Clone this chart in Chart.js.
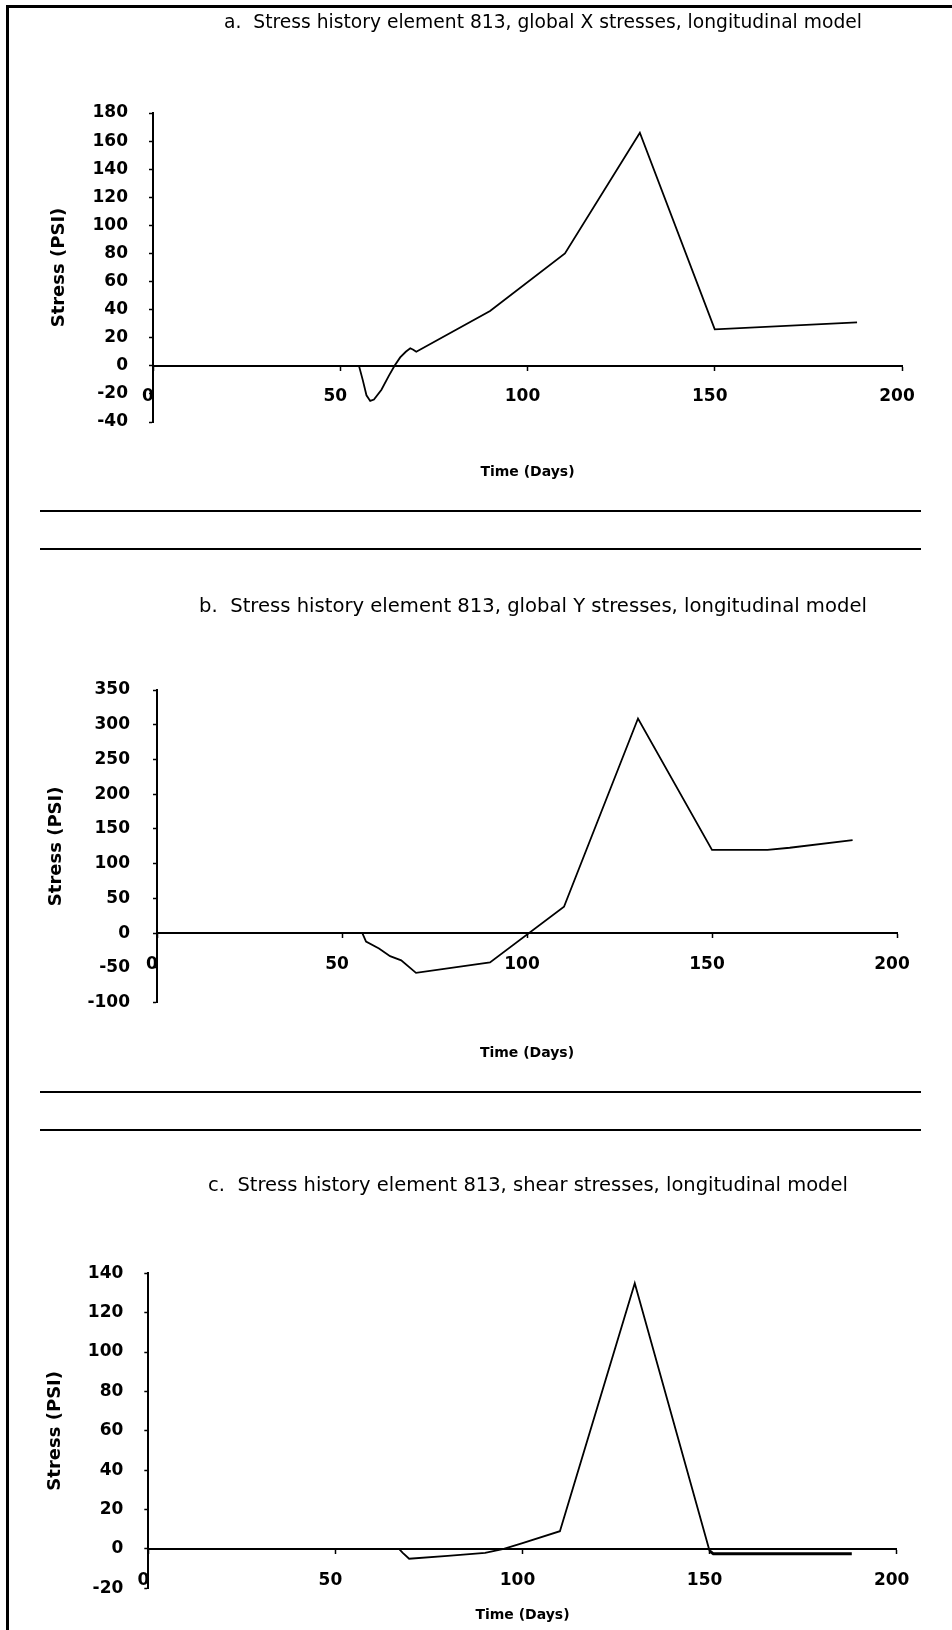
<!DOCTYPE html>
<html>
<head>
<meta charset="utf-8">
<script src="https://cdn.jsdelivr.net/npm/chart.js@4.4.1/dist/chart.umd.min.js"></script>
<style>
  html, body { margin: 0; padding: 0; background: #fff; }
  body { width: 952px; height: 1630px; position: relative; overflow: hidden; }
  canvas { position: absolute; left: 0; }
  .rule { position: absolute; background: #000; }
  .ttl { position: absolute; white-space: pre; font-family: 'DejaVu Sans'; font-size: 18.7px;
         line-height: 18.7px; color: #000; transform: translateX(-50%); }
</style>
</head>
<body>
<div class="rule" style="left:6px;top:5px;width:3px;height:1625px"></div>
<div class="rule" style="left:6px;top:5px;width:946px;height:3px"></div>
<canvas id="chartA" width="952" height="505" style="top:0px"></canvas>
<div class="rule" style="left:40px;top:510px;width:881px;height:2px"></div>
<div class="rule" style="left:40px;top:548px;width:881px;height:2px"></div>
<canvas id="chartB" width="952" height="530" style="top:555px"></canvas>
<div class="rule" style="left:40px;top:1091px;width:881px;height:2px"></div>
<div class="rule" style="left:40px;top:1129px;width:881px;height:2px"></div>
<canvas id="chartC" width="952" height="495" style="top:1135px"></canvas>
<div class="ttl" id="ttlA" style="left:543px;top:13px"></div>
<div class="ttl" id="ttlB" style="left:533px;top:596px;font-size:19.6px;line-height:19.6px"></div>
<div class="ttl" id="ttlC" style="left:528px;top:1175px;font-size:19.5px;line-height:19.5px"></div>
<script>
// ---------- data ----------
const xTicks = [0, 50, 100, 150, 200];
const xAxisTitle = 'Time (Days)';
const yAxisTitle = 'Stress (PSI)';

const titleA = 'a.  Stress history element 813, global X stresses, longitudinal model';
const yTicksA = [-40, -20, 0, 20, 40, 60, 80, 100, 120, 140, 160, 180];
const daysA = [0, 55, 56, 57, 58, 59, 61, 63, 64.5, 66, 67.5, 68.7, 69.5, 70.3, 90, 110, 130, 150, 188];
const stressA = [0, 0, -10, -21, -25, -24, -17, -7, 0, 6, 10, 12.5, 11.5, 10, 39, 80, 166, 26, 31];

const titleB = 'b.  Stress history element 813, global Y stresses, longitudinal model';
const yTicksB = [-100, -50, 0, 50, 100, 150, 200, 250, 300, 350];
const daysB = [0, 55.5, 56.5, 60, 63, 66, 70, 90, 110, 130, 150, 165, 171, 188];
const stressB = [0, 0, -12, -22, -33, -39, -57, -42, 38, 309, 120, 120, 123, 134];

const titleC = 'c.  Stress history element 813, shear stresses, longitudinal model';
const yTicksC = [-20, 0, 20, 40, 60, 80, 100, 120, 140];
const daysC = [0, 67, 68, 69.7, 80, 90, 95, 100, 110, 130, 150, 151, 188];
const stressC = [0, 0, -2, -5, -3.5, -2, 0, 3, 9, 135, -1, -2.5, -2.5];

// ---------- titles (real text) ----------
document.getElementById('ttlA').textContent = titleA;
document.getElementById('ttlB').textContent = titleB;
document.getElementById('ttlC').textContent = titleC;

// ---------- chart builder ----------
const FONT = 'DejaVu Sans';

function makeChart(id, days, stress, yTicks, L) {
  const points = days.map((d, i) => ({ x: d, y: stress[i] }));
  return new Chart(document.getElementById(id), {
    type: 'line',
    data: {
      datasets: [{
        data: points,
        borderColor: '#000',
        borderWidth: 1.8,
        pointRadius: 0,
        tension: 0,
        fill: false,
        segment: {
          borderWidth: (ctx) => (L.heavyFrom !== undefined && ctx.p0.parsed.x >= L.heavyFrom) ? 3 : 1.8
        }
      }]
    },
    options: {
      responsive: false,
      maintainAspectRatio: false,
      animation: false,
      events: [],
      layout: { padding: { left: 0, top: L.padTop, right: L.padRight, bottom: L.padBottom } },
      plugins: {
        legend: { display: false },
        tooltip: { enabled: false },
        title: { display: false }
      },
      scales: {
        x: {
          type: 'linear',
          position: { y: 0 },
          min: xTicks[0],
          max: xTicks[xTicks.length - 1],
          ticks: {
            stepSize: xTicks[1] - xTicks[0],
            color: '#000',
            font: { family: FONT, size: 17, weight: 'bold' },
            padding: 17,
            labelOffset: -5,
            autoSkip: false,
            maxRotation: 0
          },
          grid: { drawOnChartArea: false, drawTicks: true, tickLength: 4, color: '#000', tickWidth: 1.5 },
          border: { display: true, color: '#000', width: 2 },
          title: {
            display: true,
            text: xAxisTitle,
            color: '#000',
            font: { family: FONT, size: 14, weight: 'bold', lineHeight: 1.2 },
            padding: { top: L.xTitlePad, bottom: 0 }
          }
        },
        y: {
          type: 'linear',
          position: 'left',
          min: yTicks[0],
          max: yTicks[yTicks.length - 1],
          ticks: {
            stepSize: yTicks[1] - yTicks[0],
            color: '#000',
            font: { family: FONT, size: 17, weight: 'bold' },
            padding: L.yTickPad,
            autoSkip: false
          },
          grid: { drawOnChartArea: false, drawTicks: true, tickLength: 4, color: '#000', tickWidth: 1.5 },
          border: { display: true, color: '#000', width: 2 },
          title: {
            display: true,
            text: yAxisTitle,
            color: '#000',
            font: { family: FONT, size: 18, weight: 'bold', lineHeight: 1.2 },
            padding: { top: L.yTitlePad, bottom: 0 }
          },
          afterFit: (s) => { s.width = L.axisLeft; }
        }
      }
    }
  });
}

makeChart('chartA', daysA, stressA, yTicksA, {
  padTop: 113, padRight: 50, padBottom: 83,
  xTitlePad: 40, yTickPad: 21, yTitlePad: 49, axisLeft: 153
});
makeChart('chartB', daysB, stressB, yTicksB, {
  padTop: 135, padRight: 55, padBottom: 82.3,
  xTitlePad: 53, yTickPad: 23, yTitlePad: 46, axisLeft: 157
});
makeChart('chartC', daysC, stressC, yTicksC, {
  padTop: 138.3, padRight: 55.3, padBottom: 41.7,
  xTitlePad: 0, yTickPad: 21, yTitlePad: 45, axisLeft: 148.3, heavyFrom: 150
});
</script>
</body>
</html>
